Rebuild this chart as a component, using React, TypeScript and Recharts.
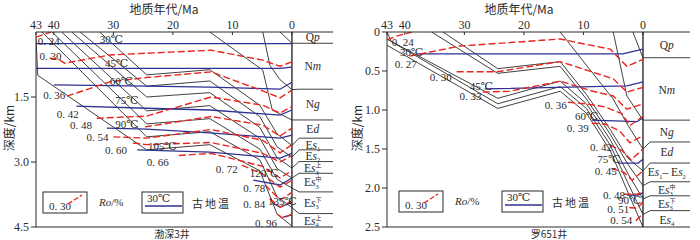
import { LineChart, Line, XAxis, YAxis, ReferenceLine, ReferenceDot } from 'recharts'

type Pt = [number, number] // [age Ma, depth km]
type Seg = [string, ('i' | 'sub' | 'sup')?]

const SERIF = '"Liberation Serif", "DejaVu Serif", serif'
const CJK = '"Noto Sans CJK SC", sans-serif'
const INK = '#2b2b2b'
const RED = '#e8261e'
const BLUE = '#2f3192'

const ageTicks = [43, 40, 30, 20, 10, 0]

// ---------- 渤深3井 ----------
const bs3DepthTicks = [1.5, 3.0, 4.5]

const bs3Burial: Pt[][] = [
  [[2, 0], [0, 0.26]],
  [[4.9, 0], [3.7, 0.77], [2, 1.1], [0, 1.33]],
  [[13.8, 0], [4.9, 0.88], [3.3, 1.8], [0, 2.03]],
  [[32.3, 0], [24.4, 0.99], [13.8, 0.87], [5.4, 1.69], [2.5, 2.35], [0, 2.62]],
  [[35.6, 0], [24.4, 1.25], [13.8, 1.13], [5.4, 1.95], [2.5, 2.65], [0, 2.89]],
  [[37.0, 0], [24.4, 1.5], [13.8, 1.4], [5.4, 2.2], [2.5, 2.9], [0, 3.14]],
  [[38.7, 0], [24.4, 1.82], [13.8, 1.7], [5.4, 2.45], [2.5, 3.15], [0, 3.37]],
  [[40.3, 0], [24.4, 2.12], [13.8, 2.0], [5.4, 2.7], [2.5, 3.4], [0, 3.6]],
  [[42, 0], [24.4, 2.42], [13.8, 2.3], [5.4, 2.95], [2.5, 3.8], [0, 4.05]],
  [[43, 0.15], [42.7, 1.0], [24.4, 2.72], [13.8, 2.6], [5.4, 3.2], [2.5, 4.2], [0, 4.48]],
]

const bs3Ro: Pt[][] = [
  [[43, 0.12], [40.5, 0]],
  [[40.7, 0.6], [39, 0.65], [38.2, 0.72], [30.6, 0.53], [13.6, 0.42], [4.9, 0.65], [2, 0.79], [0, 0.69]],
  [[37.8, 1.48], [30.6, 1.15], [24.4, 1.05], [13.6, 0.92], [4.9, 1.36], [2, 1.52], [0, 1.34]],
  [[32.8, 1.99], [24.4, 1.94], [13.6, 1.5], [4.9, 1.69], [2, 1.87], [0, 1.72]],
  [[24.7, 2.19], [13.6, 1.95], [4.9, 2.15], [2, 2.4], [0, 2.22]],
  [[30, 2.42], [24.4, 2.45], [13.6, 2.25], [4.9, 2.5], [2, 2.79], [0, 2.6]],
  [[26.7, 2.56], [24.4, 2.6], [13.6, 2.55], [4.9, 2.8], [2, 3.0], [0, 2.85]],
  [[19, 2.85], [13.6, 2.8], [4.9, 3.1], [2, 3.37], [0, 3.2]],
  [[8.4, 3.07], [4.9, 3.28], [2, 3.58], [0, 3.42]],
  [[4.5, 3.53], [2, 3.88], [0, 3.7]],
  [[3.7, 3.85], [2, 4.04], [0, 3.9]],
  [[2.5, 4.2], [1.5, 4.3], [0, 4.2]],
]

const bs3Temp: Pt[][] = [
  [[43, 0.27], [0, 0.27]],
  [[43, 0.84], [2, 0.84], [0, 0.81]],
  [[40, 1.22], [24.4, 1.25], [13.8, 1.27], [2, 1.32], [0, 1.16]],
  [[36.2, 1.71], [24.4, 1.76], [13.8, 1.8], [2, 1.92], [0, 1.8]],
  [[31.1, 2.22], [24.4, 2.24], [13.8, 2.33], [2, 2.45], [0, 2.38]],
  [[26, 2.72], [13.8, 2.77], [2, 2.91], [0, 2.8]],
  [[6.5, 3.42], [2, 3.53], [0, 3.37]],
  [[3.2, 3.95], [2, 4.04], [0, 3.93]],
  [[1.5, 4.27], [0, 4.22]],
]

const bs3RoText = ['0. 24', '0. 30', '0. 36', '0. 42', '0. 48', '0. 54', '0. 60', '0. 66', '0. 72', '0. 78', '0. 84', '0. 96']
const bs3RoAt: Pt[] = [
  [42.7, 0.21], [42.4, 0.55], [41.8, 1.45], [39.5, 1.89], [37.3, 2.15], [34.5, 2.42],
  [31.4, 2.72], [24.4, 3.0], [12.8, 3.16], [8.2, 3.6], [8.2, 3.97], [6.2, 4.41],
]
const bs3TempText = ['30℃', '45℃', '60℃', '75℃', '90℃', '105℃', '120℃', '135℃']
const bs3TempAt: Pt[] = [
  [32.3, 0.16], [31.4, 0.72], [30.6, 1.13], [29.7, 1.57], [29.7, 2.12], [24.2, 2.63], [7.1, 3.26], [4.0, 3.9],
]

const bs3StrataBase = [0.26, 1.32, 2.03, 2.45, 2.72, 2.99, 3.26, 3.69, 4.19]
const bs3StrataName: Seg[][] = [
  [['Q'], ['p', 'i']],
  [['N'], ['m', 'i']],
  [['N'], ['g', 'i']],
  [['E'], ['d', 'i']],
  [['E'], ['s', 'i'], ['1', 'sub']],
  [['E'], ['s', 'i'], ['2', 'sub']],
  [['E'], ['s', 'i'], ['3', 'sub'], ['上', 'sup']],
  [['E'], ['s', 'i'], ['3', 'sub'], ['中', 'sup']],
  [['E'], ['s', 'i'], ['3', 'sub'], ['下', 'sup']],
  [['E'], ['s', 'i'], ['4', 'sub'], ['上', 'sup']],
]
const bs3StrataMid = [0.12, 0.79, 1.66, 2.24, 2.6, 2.86, 3.14, 3.47, 3.94, 4.35]

// ---------- 罗651井 ----------
const l651DepthTicks = [0, 0.5, 1.0, 1.5, 2.0, 2.5]

const l651Burial: Pt[][] = [
  [[1.7, 0], [0, 0.33]],
  [[5.0, 0], [2.7, 0.82], [0, 1.13]],
  [[13.9, 0], [5.0, 0.86], [2.5, 1.2], [0, 1.5]],
  [[33.6, 0], [24.4, 0.47], [13.9, 0.38], [9.5, 0.8], [5.5, 1.25], [2.5, 1.62], [0, 1.78]],
  [[35.5, 0], [24.4, 0.53], [13.9, 0.44], [9.5, 0.86], [5.5, 1.31], [2.5, 1.7], [0, 1.97]],
  [[43, 0], [42.3, 0.12], [24.4, 0.85], [13.9, 0.63], [9.5, 0.92], [5.5, 1.38], [2.5, 1.82], [0, 2.14]],
  [[43, 0.09], [24.4, 0.92], [13.9, 0.7], [9.5, 0.98], [5.5, 1.45], [2.5, 1.94], [0, 2.34]],
  [[43, 0.17], [24.4, 0.98], [13.9, 0.76], [9.5, 1.04], [5.5, 1.52], [2.5, 2.06], [0, 2.5]],
]

const l651Ro: Pt[][] = [
  [[43, 0.1], [41.3, 0.05], [38.8, 0]],
  [[39.2, 0.31], [30.8, 0.18], [13.9, 0.09], [10.1, 0.15], [5.5, 0.22], [2.7, 0.44], [0, 0.35]],
  [[31.3, 0.51], [24.5, 0.51], [13.9, 0.38], [5.0, 0.6], [2.7, 0.77], [0, 0.71]],
  [[26.9, 0.77], [22.4, 0.76], [13.9, 0.63], [8.4, 0.76], [5, 0.82], [2.7, 0.99], [0, 0.92]],
  [[12.6, 0.9], [9.7, 0.92], [6.4, 0.96], [3.5, 1.05], [2.2, 1.2], [0, 1.08]],
  [[8.6, 1.17], [6.4, 1.18], [3.9, 1.27], [2.2, 1.42], [0, 1.33]],
  [[5.6, 1.45], [3.5, 1.52], [2.0, 1.64], [0, 1.5]],
  [[5.3, 1.75], [3.2, 1.8], [1.8, 1.9], [0, 1.78]],
  [[3.2, 2.08], [1, 2.08], [0, 2.05]],
  [[2.3, 2.25], [1, 2.26], [0, 2.18]],
  [[1.2, 2.42], [0, 2.33]],
]

const l651Temp: Pt[][] = [
  [[38, 0.28], [3.4, 0.28], [0, 0.22]],
  [[26.6, 0.73], [2.7, 0.69], [0, 0.64]],
  [[8.6, 1.13], [1, 1.15], [0, 1.1]],
  [[4.2, 1.68], [0.8, 1.68], [0, 1.63]],
  [[2.7, 2.09], [0.8, 2.09], [0, 2.06]],
]

const l651RoText = ['0. 24', '0. 27', '0. 30', '0. 33', '0. 36', '0. 39', '0. 42', '0. 45', '0. 48', '0. 51', '0. 54']
const l651RoAt: Pt[] = [
  [42.2, 0.13], [41.7, 0.41], [35.8, 0.58], [30.8, 0.82], [16.5, 0.94], [12.8, 1.23],
  [8.9, 1.47], [8.1, 1.78], [6.7, 2.09], [6.0, 2.27], [5.5, 2.41],
]
const l651TempText = ['30℃', '45℃', '60℃', '75℃', '90℃']
const l651TempAt: Pt[] = [[40.8, 0.26], [29.1, 0.69], [11.4, 1.08], [7.7, 1.63], [4.2, 2.15]]

const l651StrataBase = [0.33, 1.13, 1.41, 1.68, 1.92, 2.1, 2.29]
const l651StrataName: Seg[][] = [
  [['Q'], ['p', 'i']],
  [['N'], ['m', 'i']],
  [['N'], ['g', 'i']],
  [['E'], ['d', 'i']],
  [['E'], ['s', 'i'], ['1', 'sub'], ['– E'], ['s', 'i'], ['2', 'sub']],
  [['E'], ['s', 'i'], ['3', 'sub'], ['中', 'sup']],
  [['E'], ['s', 'i'], ['3', 'sub'], ['下', 'sup']],
  [['E'], ['s', 'i'], ['4', 'sub']],
]
const l651StrataMid = [0.17, 0.74, 1.28, 1.54, 1.8, 2.02, 2.2, 2.41]

// -----------------------------------------

const rows = (pts: Pt[]) => pts.map(([age, depth]) => ({ age, depth }))

function StrataText({ cx, cy, segs }: { cx: number; cy: number; segs: Seg[] }) {
  let cur = 0
  return (
    <text x={cx} y={cy + 4} textAnchor="middle" fontSize={11.5} fontFamily={SERIF} fill={INK}>
      {segs.map(([t, k], i) => {
        if (k === 'sub') {
          const dy = 2.5 - cur
          cur = 2.5
          return <tspan key={i} fontSize={6.5} dy={dy}>{t}</tspan>
        }
        if (k === 'sup') {
          const dy = -5 - cur
          cur = -5
          return <tspan key={i} fontSize={6} fontFamily={CJK} dx={-3.2} dy={dy}>{t}</tspan>
        }
        const dy = -cur
        cur = 0
        return <tspan key={i} dy={dy} fontStyle={k === 'i' ? 'italic' : 'normal'}>{t}</tspan>
      })}
    </text>
  )
}

const plainText = (s: string) => (p: any) => (
  <text x={p.cx} y={p.cy + 4} fontSize={11} fontFamily={SERIF} fill={INK}>{s}</text>
)

interface PanelCfg {
  width: number
  left: number
  right: number
  minAge: number
  maxDepth: number
  depthTicks: number[]
  burial: Pt[][]
  ro: Pt[][]
  temp: Pt[][]
  roText: string[]
  roAt: Pt[]
  tempText: string[]
  tempAt: Pt[]
  strataBase: number[]
  strataName: Seg[][]
  strataMid: number[]
  strataAge: number
}

function Panel({ cfg }: { cfg: PanelCfg }) {
  // short slanted ties from the end of each burial curve to its column boundary
  const connectors = cfg.strataBase.map((d, i) => {
    const end = cfg.burial[i][cfg.burial[i].length - 1][1]
    return rows([[0, end], [-1.2, d], [cfg.minAge, d]])
  })
  return (
    <LineChart
      width={cfg.width}
      height={240}
      margin={{ top: 12, right: cfg.right, bottom: 13, left: cfg.left }}
    >
      <XAxis
        type="number"
        dataKey="age"
        orientation="top"
        reversed
        domain={[cfg.minAge, 43]}
        ticks={ageTicks}
        interval={0}
        allowDataOverflow
        height={20}
        tickSize={-3}
        tickMargin={6}
        axisLine={{ stroke: INK }}
        tickLine={{ stroke: INK }}
        tick={{ fill: INK, fontSize: 12, fontFamily: SERIF }}
      />
      <YAxis
        type="number"
        dataKey="depth"
        reversed
        domain={[0, cfg.maxDepth]}
        ticks={cfg.depthTicks}
        interval={0}
        allowDataOverflow
        width={30}
        tickSize={5}
        tickMargin={2}
        axisLine={{ stroke: INK }}
        tickLine={{ stroke: INK }}
        tick={{ fill: INK, fontSize: 12, fontFamily: SERIF }}
        tickFormatter={(v: number) => (v === 0 ? '0' : v.toFixed(1))}
      />
      <ReferenceLine y={cfg.maxDepth} stroke={INK} strokeWidth={1} />
      <ReferenceLine x={0} stroke={INK} strokeWidth={1.4} />
      {connectors.map((data, i) => (
        <Line key={'c' + i} data={data} dataKey="depth" stroke={INK} strokeWidth={0.9}
          dot={false} activeDot={false} legendType="none" isAnimationActive={false} />
      ))}
      {cfg.burial.map((pts, i) => (
        <Line key={'b' + i} data={rows(pts)} dataKey="depth" stroke={INK} strokeWidth={0.9}
          dot={false} activeDot={false} legendType="none" isAnimationActive={false} />
      ))}
      {cfg.temp.map((pts, i) => (
        <Line key={'t' + i} data={rows(pts)} dataKey="depth" stroke={BLUE} strokeWidth={1.3}
          dot={false} activeDot={false} legendType="none" isAnimationActive={false} />
      ))}
      {cfg.ro.map((pts, i) => (
        <Line key={'r' + i} data={rows(pts)} dataKey="depth" stroke={RED} strokeWidth={1.4}
          strokeDasharray="7 3" dot={false} activeDot={false} legendType="none" isAnimationActive={false} />
      ))}
      {cfg.roAt.map(([a, d], i) => (
        <ReferenceDot key={'rl' + i} x={a} y={d} r={0} ifOverflow="visible" shape={plainText(cfg.roText[i])} />
      ))}
      {cfg.tempAt.map(([a, d], i) => (
        <ReferenceDot key={'tl' + i} x={a} y={d} r={0} ifOverflow="visible" shape={plainText(cfg.tempText[i])} />
      ))}
      {cfg.strataMid.map((d, i) => (
        <ReferenceDot key={'sl' + i} x={cfg.strataAge} y={d} r={0} ifOverflow="visible"
          shape={(p: any) => <StrataText cx={p.cx} cy={p.cy} segs={cfg.strataName[i]} />} />
      ))}
    </LineChart>
  )
}

const bs3Cfg: PanelCfg = {
  width: 345, left: 6, right: 12, minAge: -6.9, maxDepth: 4.5, depthTicks: bs3DepthTicks,
  burial: bs3Burial, ro: bs3Ro, temp: bs3Temp, roText: bs3RoText, roAt: bs3RoAt,
  tempText: bs3TempText, tempAt: bs3TempAt, strataBase: bs3StrataBase,
  strataName: bs3StrataName, strataMid: bs3StrataMid, strataAge: -3.5,
}

const l651Cfg: PanelCfg = {
  width: 350, left: 7, right: 10, minAge: -7.9, maxDepth: 2.5, depthTicks: l651DepthTicks,
  burial: l651Burial, ro: l651Ro, temp: l651Temp, roText: l651RoText, roAt: l651RoAt,
  tempText: l651TempText, tempAt: l651TempAt, strataBase: l651StrataBase,
  strataName: l651StrataName, strataMid: l651StrataMid, strataAge: -4.0,
}

function LegendPair({ x1, x2, y }: { x1: number; x2: number; y: number }) {
  return (
    <g>
      <rect x={x1} y={y} width={44} height={21} fill="none" stroke={INK} strokeWidth={1} />
      <text x={x1 + 6} y={y + 18} fontSize={11} fontFamily={SERIF} fill={INK}>0. 30</text>
      <line x1={x1 + 25} y1={y + 12} x2={x1 + 39} y2={y + 3} stroke={RED} strokeWidth={1.4} strokeDasharray="5 2" />
      <text x={x1 + 56} y={y + 14} fontSize={11} fontFamily={SERIF} fill={INK}>
        <tspan fontStyle="italic">Ro</tspan>/%
      </text>
      <rect x={x2} y={y} width={41} height={21} fill="none" stroke={INK} strokeWidth={1} />
      <text x={x2 + 5} y={y + 10} fontSize={11} fontFamily={SERIF} fill={INK}>30℃</text>
      <line x1={x2 + 3} y1={y + 14} x2={x2 + 40} y2={y + 14} stroke={BLUE} strokeWidth={1.3} />
      <text x={x2 + 50} y={y + 16} fontSize={11} fontFamily={CJK} fill={INK} letterSpacing={2}>古地温</text>
    </g>
  )
}

export default function App() {
  return (
    <div style={{ position: 'absolute', left: 0, top: 0, width: 700, height: 240, background: '#fff' }}>
      <div style={{ position: 'absolute', left: 0, top: 0 }}>
        <Panel cfg={bs3Cfg} />
      </div>
      <div style={{ position: 'absolute', left: 350, top: 0 }}>
        <Panel cfg={l651Cfg} />
      </div>
      <svg width={700} height={240} style={{ position: 'absolute', left: 0, top: 0, pointerEvents: 'none' }}>
        <text x={164} y={14} textAnchor="middle" fontSize={12} fontFamily={CJK} fill={INK}>地质年代/Ma</text>
        <text x={519} y={14} textAnchor="middle" fontSize={12} fontFamily={CJK} fill={INK}>地质年代/Ma</text>
        <text transform="translate(14,128) rotate(-90)" textAnchor="middle" fontSize={12} fontFamily={CJK} fill={INK}>深度/km</text>
        <text transform="translate(362,128) rotate(-90)" textAnchor="middle" fontSize={12} fontFamily={CJK} fill={INK}>深度/km</text>
        <text x={172} y={237.5} textAnchor="middle" fontSize={10} fontFamily={CJK} fill={INK}>渤深3井</text>
        <text x={549} y={237.5} textAnchor="middle" fontSize={10} fontFamily={CJK} fill={INK}>罗651井</text>
        <LegendPair x1={43} x2={142} y={192} />
        <LegendPair x1={399} x2={502} y={191} />
      </svg>
    </div>
  )
}
